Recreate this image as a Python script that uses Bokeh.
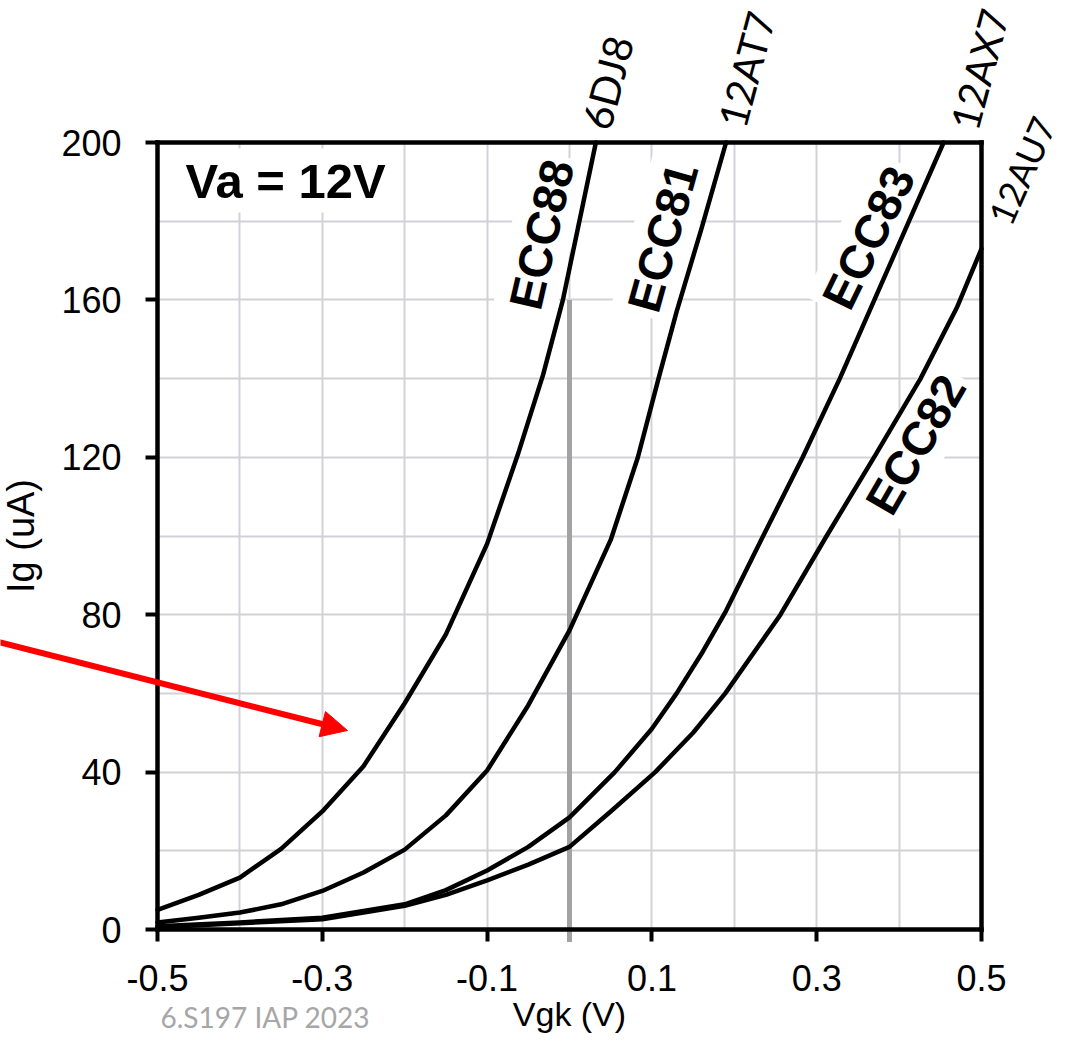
from bokeh.plotting import figure
from bokeh.models import Range1d, FixedTicker, Label, Arrow, NormalHead, LinearAxis, Grid
from bokeh.embed import file_html
from bokeh.resources import INLINE

# ---------------- data ----------------
vgk_ecc88 = [-0.5, -0.45, -0.4, -0.35, -0.3, -0.25, -0.2, -0.15, -0.1, -0.063, -0.032, -0.008, 0.008, 0.032]
ig_ecc88 = [5.0, 8.8, 13.2, 20.5, 30.0, 41.5, 57.5, 75.0, 98.0, 120.5, 141.0, 160.0, 176.0, 200.0]

vgk_ecc81 = [-0.5, -0.45, -0.4, -0.35, -0.3, -0.25, -0.2, -0.15, -0.1, -0.05, 0.0, 0.05, 0.083, 0.108, 0.13, 0.16, 0.19]
ig_ecc81 = [1.8, 3.0, 4.3, 6.4, 9.8, 14.5, 20.3, 29.0, 40.4, 57.0, 76.0, 99.0, 120.0, 140.0, 157.0, 178.0, 200.0]

vgk_ecc83 = [-0.5, -0.4, -0.3, -0.2, -0.15, -0.1, -0.05, 0.0, 0.055, 0.1, 0.13, 0.16, 0.19, 0.235, 0.283, 0.328, 0.37, 0.412, 0.454]
ig_ecc83 = [0.8, 1.8, 3.0, 6.4, 10.0, 15.0, 21.0, 28.5, 40.0, 51.0, 60.0, 70.0, 81.0, 100.0, 120.0, 140.0, 160.0, 180.0, 200.0]

vgk_ecc82 = [-0.5, -0.4, -0.3, -0.2, -0.15, -0.1, -0.05, 0.0, 0.05, 0.104, 0.15, 0.189, 0.256, 0.312, 0.371, 0.426, 0.47, 0.5]
ig_ecc82 = [0.6, 1.6, 2.6, 6.0, 8.8, 12.5, 16.5, 21.0, 30.0, 40.0, 50.0, 60.0, 80.0, 100.0, 120.5, 140.0, 158.0, 173.0]

x_ticks = [-0.5, -0.3, -0.1, 0.1, 0.3, 0.5]
x_tick_labels = ["-0.5", "-0.3", "-0.1", "0.1", "0.3", "0.5"]
y_ticks = [0, 40, 80, 120, 160, 200]
y_tick_labels = ["0", "40", "80", "120", "160", "200"]
x_grid = [-0.4, -0.3, -0.2, -0.1, 0.0, 0.1, 0.2, 0.3, 0.4]
y_grid = [20, 40, 60, 80, 100, 120, 140, 160, 180]
x_bounds = (-0.5, 0.5)
y_bounds = (0, 200)

zero_line_x = [0.0]
zero_line_bottom = [-3.2]
zero_line_top = [160.0]

# ---------------- layout geometry (pixels) ----------------
W, H = 1067, 1034
box_left, box_right, box_top, box_bottom = 157, 981, 142, 929
px_per_x = (box_right - box_left) / (x_bounds[1] - x_bounds[0])
px_per_y = (box_bottom - box_top) / (y_bounds[1] - y_bounds[0])
x_start = x_bounds[0] - box_left / px_per_x
x_end = x_start + W / px_per_x
y_end = y_bounds[1] + box_top / px_per_y
y_start = y_end - H / px_per_y

p = figure(width=W, height=H,
           x_range=Range1d(x_start, x_end), y_range=Range1d(y_start, y_end),
           output_backend="svg", toolbar_location=None,
           min_border=0, min_border_left=0, min_border_right=0,
           min_border_top=0, min_border_bottom=0,
           background_fill_color="white", border_fill_color="white")
p.outline_line_color = None


def style_axis(ax):
    ax.axis_line_width = 4.5
    ax.axis_line_color = "black"
    ax.axis_line_cap = "square"
    ax.major_tick_line_width = 4
    ax.major_tick_line_color = "black"
    ax.major_tick_out = 12
    ax.major_tick_in = 0
    ax.minor_tick_line_color = None
    ax.major_label_text_font = "Liberation Sans"
    ax.major_label_text_font_size = "36px"
    ax.major_label_text_color = "black"
    ax.axis_label_text_font = "Liberation Sans"
    ax.axis_label_text_font_style = "normal"
    ax.axis_label_text_color = "black"


xa = p.xaxis[0]
ya = p.yaxis[0]
style_axis(xa)
style_axis(ya)
xa.fixed_location = y_bounds[0]
xa.bounds = x_bounds
ya.fixed_location = x_bounds[0]
ya.bounds = y_bounds
xa.ticker = FixedTicker(ticks=x_ticks)
xa.major_label_overrides = {t: l for t, l in zip(x_ticks, x_tick_labels)}
ya.ticker = FixedTicker(ticks=y_ticks)
ya.major_label_overrides = {t: l for t, l in zip(y_ticks, y_tick_labels)}
xa.axis_label = "Vgk (V)"
ya.axis_label = "Ig (uA)"
xa.axis_label_text_font_size = "34px"
ya.axis_label_text_font_size = "38px"
xa.major_label_standoff = 23
xa.axis_label_standoff = 1
ya.major_label_standoff = 24
ya.axis_label_standoff = 16

# top and right frame lines
top_ax = LinearAxis(fixed_location=y_bounds[1], bounds=x_bounds, ticker=FixedTicker(ticks=[]))
right_ax = LinearAxis(fixed_location=x_bounds[1], bounds=y_bounds, ticker=FixedTicker(ticks=[]))
for ax in (top_ax, right_ax):
    style_axis(ax)
    ax.major_tick_line_color = None
    ax.major_label_text_font_size = "0px"
p.add_layout(top_ax, "above")
p.add_layout(right_ax, "right")

# grid
p.xgrid.ticker = FixedTicker(ticks=x_grid)
p.ygrid.ticker = FixedTicker(ticks=y_grid)
if "cross_bounds" in Grid.properties():
    p.xgrid.cross_bounds = y_bounds
    p.ygrid.cross_bounds = x_bounds
p.xgrid.bounds = x_bounds
p.ygrid.bounds = y_bounds
p.grid.grid_line_color = "#d3d1d8"
p.grid.grid_line_width = 2

# gray vertical reference line at Vgk = 0
p.segment(x0=zero_line_x, y0=zero_line_bottom, x1=zero_line_x, y1=zero_line_top,
          line_color="#a3a3a3", line_width=5)

# curves
for xs, ys in ((vgk_ecc88, ig_ecc88), (vgk_ecc81, ig_ecc81),
               (vgk_ecc83, ig_ecc83), (vgk_ecc82, ig_ecc82)):
    p.line(xs, ys, line_color="black", line_width=4.5, line_join="round", line_cap="round")


def px_to_x(px):
    return x_bounds[0] + (px - 8 - box_left) / px_per_x


def py_to_y(py):
    return y_bounds[0] + (box_bottom - (py - 8)) / px_per_y


def add_label(px, py, text, angle, size, font, style, align="center", bg=True, color="black",
              baseline="middle"):
    lab = Label(x=px_to_x(px), y=py_to_y(py), text=text, angle=angle, angle_units="deg",
                text_align=align, text_baseline=baseline,
                text_font=font, text_font_size=size, text_font_style=style,
                text_color=color)
    if bg:
        lab.background_fill_color = "white"
        lab.padding = 5
        lab.level = "underlay"
    p.add_layout(lab)


# in-plot labels (positions in page pixels of the reference)
add_label(188, 188, "Va = 12V", 0, "49px", "Liberation Sans", "bold", align="left")
add_label(549, 242, "ECC88", 77, "47px", "Liberation Sans", "bold")
add_label(670, 245, "ECC81", 74.5, "47px", "Liberation Sans", "bold")
add_label(876, 245, "ECC83", 64, "47px", "Liberation Sans", "bold")
add_label(923, 452, "ECC82", 60, "47px", "Liberation Sans", "bold")

# tube labels above / right of the box
add_label(615, 90, "6DJ8", 75, "41px", "Lato", "normal", bg=False)
add_label(754, 77, "12AT7", 75, "40px", "Lato", "normal", bg=False)
add_label(987, 77, "12AX7", 75, "40px", "Lato", "normal", bg=False)
add_label(1029, 178, "12AU7", 66, "36px", "Lato", "normal", bg=False)

# footer text (near the bottom edge)
add_label(168, 1041, "6.S197 IAP 2023", 0, "28px", "Lato", "normal", align="left", bg=False,
          color="#a6a6a6", baseline="bottom")

# red arrow
arrow = Arrow(x_start=px_to_x(-10), y_start=py_to_y(645.5), x_end=px_to_x(355), y_end=py_to_y(738),
              line_color="#ff0000", line_width=6,
              end=NormalHead(size=26, fill_color="#ff0000", line_color="#ff0000"))
p.add_layout(arrow)

open("out.html", "w").write(file_html(p, INLINE))
